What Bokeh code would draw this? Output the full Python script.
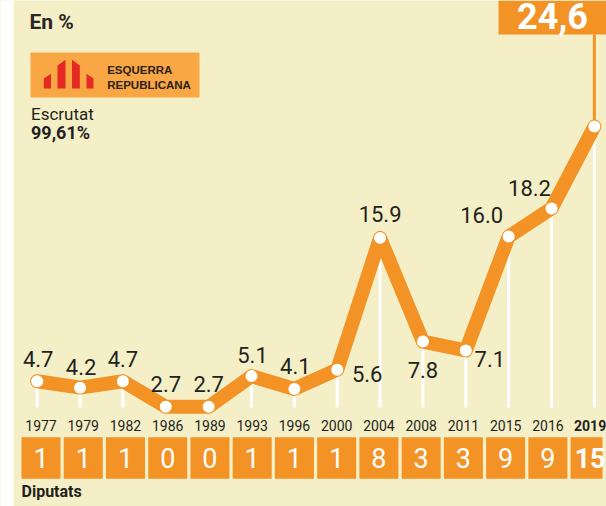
from bokeh.plotting import figure
from bokeh.models import Range1d, ColumnDataSource
from bokeh.core.properties import value
from bokeh.embed import file_html
from bokeh.resources import INLINE

# ---- data ----
years = ["1977", "1979", "1982", "1986", "1989", "1993", "1996",
         "2000", "2004", "2008", "2011", "2015", "2016", "2019"]
pct = [4.7, 4.2, 4.7, 2.7, 2.7, 5.1, 4.1, 5.6, 15.9, 7.8, 7.1, 16.0, 18.2, 24.6]
seats = [1, 1, 1, 0, 0, 1, 1, 1, 8, 3, 3, 9, 9, 15]

# label offsets (screen px) for the value labels, style only
lab_dx = [1, 1, 0, 0, 0, 1, 1, 30, 0, 0, 24, -27, -22]
lab_dy = [-14, -13, -14, -15, -15, -13, -15, 12, -16, 36, 16, -14, -13]

BG = "#F4EFC6"
ORANGE = "#F39325"
LOGO = "#F8A744"
DARK = "#231F20"
RED = "#E42A22"

# helpers: picture px -> data units (decoration placement)
def X(ix):
    return (ix - 36.7) / 42.86

def XB(ix):
    return (ix - 40.5) / 42.24

def Y(iy):
    return (440.9 - iy) / 12.8

def B(fs):
    # baseline correction (px) for the renderer
    return -0.36 * fs

n = len(years)
idx = list(range(n))

p = figure(width=606, height=506, output_backend="svg", toolbar_location=None,
           x_range=Range1d(X(0), X(606)), y_range=Range1d(Y(506), Y(0)),
           x_axis_location=None, y_axis_location=None, min_border=0,
           background_fill_color=BG, border_fill_color=BG, outline_line_color=None)
p.grid.visible = False
p.extra_x_ranges = {"box": Range1d(XB(0), XB(606))}

# white strip on the left
p.quad(left=X(0), right=X(13), bottom=Y(506), top=Y(0), color="white", line_color=None)

# logo box
p.quad(left=X(30), right=X(199), top=Y(52), bottom=Y(97), color=LOGO, line_color=None)
bars_x = [[43.3, 50.5, 50.5, 43.3], [57, 65, 65, 57], [71.5, 79.3, 79.3, 71.5], [86, 93, 93, 86]]
bars_y = [[88, 88, 73.3, 78], [88, 88, 59.3, 65], [88, 88, 65, 59.3], [88, 88, 78, 73.3]]
p.patches(xs=[[X(v) for v in b] for b in bars_x], ys=[[Y(v) for v in b] for b in bars_y],
          color=RED, line_color=None)
p.text(x=[X(106.7), X(106.7)], y=[Y(74), Y(88.3)], text=["ESQUERRA", "REPUBLICANA"],
       text_font=value("Liberation Sans"), text_font_style="bold", text_font_size="11.5px",
       y_offset=B(11.5), text_color="#2B2118", text_baseline="alphabetic", text_align="left")

# header texts
p.text(x=[X(29)], y=[Y(29.3)], text=["En %"], text_font=value("Roboto"),
       text_font_size="21px", text_font_style="bold", text_color="#2A2626", y_offset=B(21),
       text_baseline="alphabetic", text_align="left")
p.text(x=[X(30.5)], y=[Y(120)], text=["Escrutat"], text_font=value("Roboto"),
       text_font_size="17px", text_color=DARK, y_offset=B(17),
       text_baseline="alphabetic", text_align="left")
p.text(x=[X(30.5)], y=[Y(138.3)], text=["99,61%"], text_font=value("Roboto"),
       text_font_size="18px", text_font_style="bold", text_color=DARK, y_offset=B(18),
       text_baseline="alphabetic", text_align="left")

# white drop lines
p.segment(x0=idx, y0=pct, x1=idx, y1=[Y(407)] * n, line_color="white", line_width=3)

# top value box with connector
p.segment(x0=[idx[-1]], y0=[Y(34)], x1=[idx[-1]], y1=[pct[-1]], line_color=ORANGE, line_width=3)
p.quad(left=X(498), right=X(606), top=Y(0), bottom=Y(34), color=ORANGE, line_color=None)
p.text(x=[X(552)], y=[Y(28)], text=[f"{pct[-1]:.1f}".replace(".", ",")],
       text_font=value("Roboto"), text_font_style="bold", text_font_size="36px",
       y_offset=B(36), text_color="white", text_baseline="alphabetic", text_align="center")

# main line
p.line(idx, pct, line_color=ORANGE, line_width=14, line_join="round", line_cap="round")
p.scatter(idx, pct, size=12, fill_color="white", line_color=None)

# value labels
src = ColumnDataSource(dict(x=idx[:-1], y=pct[:-1], t=[f"{v:.1f}" for v in pct[:-1]],
                            dx=lab_dx, dy=[d + B(22) for d in lab_dy]))
p.text(x="x", y="y", text="t", x_offset="dx", y_offset="dy", source=src,
       text_font=value("Roboto"), text_font_size="22px", text_color=DARK,
       text_baseline="alphabetic", text_align="center")

# seat boxes
hw = 19.5 / 42.24
rights = [i + hw for i in idx]
rights[-1] = min(rights[-1], XB(602))
p.quad(left=[i - hw for i in idx], right=rights,
       top=Y(436.7), bottom=Y(478.3), color=ORANGE, line_color=None, x_range_name="box")
p.text(x=idx[:-1], y=[Y(467.7)] * (n - 1), text=[str(s) for s in seats[:-1]],
       x_range_name="box", text_font=value("Roboto"), text_font_size="27px",
       y_offset=B(27), text_color="white", text_baseline="alphabetic", text_align="center")
p.text(x=[idx[-1]], y=[Y(467.7)], text=[str(seats[-1])],
       x_range_name="box", text_font=value("Roboto"), text_font_style="bold",
       text_font_size="27px", y_offset=B(27), text_color="white",
       text_baseline="alphabetic", text_align="center")

# year labels
p.text(x=idx[:-1], y=[Y(430)] * (n - 1), text=years[:-1], x_range_name="box",
       text_font=value("Roboto"), text_font_size="14px", text_color=DARK, y_offset=B(14),
       text_baseline="alphabetic", text_align="center")
p.text(x=[idx[-1]], y=[Y(430)], text=[years[-1]], x_range_name="box",
       text_font=value("Roboto"), text_font_style="bold", text_font_size="14px",
       y_offset=B(14), text_color=DARK, text_baseline="alphabetic", text_align="center")

p.text(x=[X(21)], y=[Y(497)], text=["Diputats"], text_font=value("Roboto"),
       text_font_size="16px", text_font_style="bold", text_color=DARK, y_offset=B(16),
       text_baseline="alphabetic", text_align="left")

open("out.html", "w").write(file_html(p, INLINE))
